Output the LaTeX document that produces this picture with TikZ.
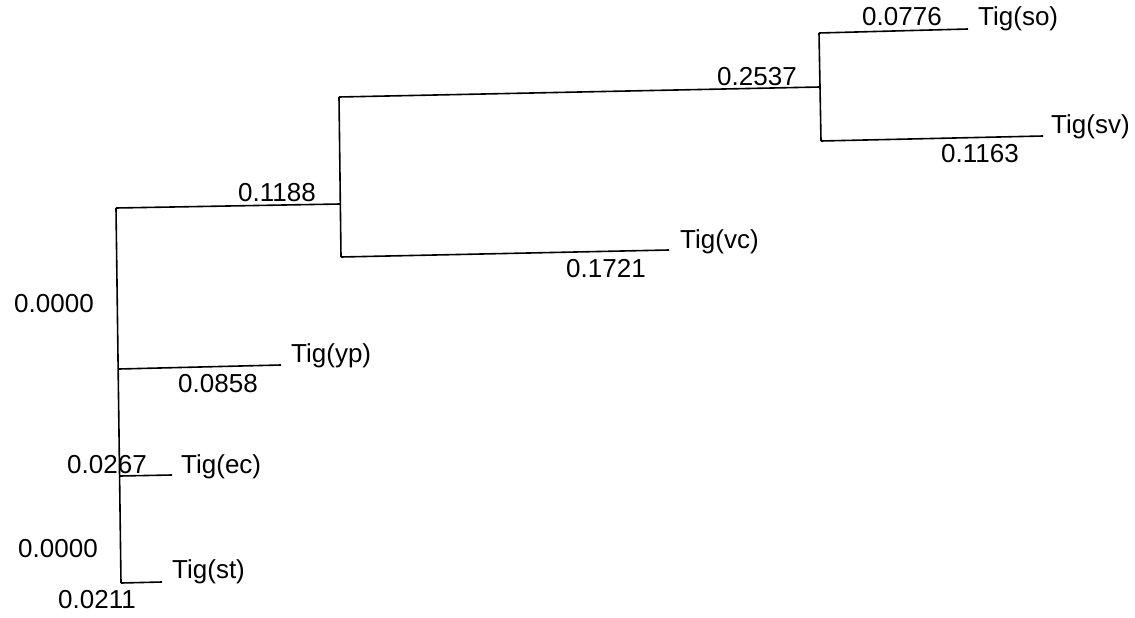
\documentclass[tikz,border=0pt]{standalone}
\usepackage{fontspec}
\setmainfont{Liberation Sans}
\begin{document}
\begin{tikzpicture}[x=1pt,y=-1pt,
  br/.style={line width=1.6pt,black},
  lbl/.style={anchor=base west,inner sep=0pt,font=\fontsize{26}{29}\selectfont}]
\useasboundingbox (0,0) rectangle (1135,618);
% tree coordinates
\coordinate (rtop) at (116,208);
\coordinate (ryp) at (119,369);
\coordinate (rec) at (120,476);
\coordinate (rbot) at (121,583);
\coordinate (n1) at (340,204);
\coordinate (n1top) at (339,97);
\coordinate (n1bot) at (341,257);
\coordinate (vc) at (669,250);
\coordinate (n2) at (820,87);
\coordinate (n2top) at (819,33);
\coordinate (n2bot) at (821,141);
\coordinate (so) at (968,29);
\coordinate (sv) at (1043,136);
\coordinate (yp) at (281,365);
\coordinate (ec) at (172,475);
\coordinate (st) at (162,582);
% branches
\draw[br] (rtop) -- (rbot);
\draw[br] (rtop) -- (n1);
\draw[br] (n1top) -- (n1bot);
\draw[br] (n1top) -- (n2);
\draw[br] (n2top) -- (n2bot);
\draw[br] (n2top) -- (so);
\draw[br] (n2bot) -- (sv);
\draw[br] (n1bot) -- (vc);
\draw[br] (ryp) -- (yp);
\draw[br] (rec) -- (ec);
\draw[br] (rbot) -- (st);
% labels
\node[lbl] (l1188) at (238,201) {0.1188};
\node[lbl] (l2537) at (717,85) {0.2537};
\node[lbl] (l0776) at (862,26) {0.0776};
\node[lbl] (tso) at (978,26) {Tig(so)};
\node[lbl] (tsv) at (1051,133) {Tig(sv)};
\node[lbl] (l1163) at (941,162) {0.1163};
\node[lbl] (tvc) at (680,248) {Tig(vc)};
\node[lbl] (l1721) at (566,277) {0.1721};
\node[lbl] (l0000a) at (14,312) {0.0000};
\node[lbl] (typ) at (291,362) {Tig(yp)};
\node[lbl] (l0858) at (178,392) {0.0858};
\node[lbl] (l0267) at (67,473) {0.0267};
\node[lbl] (tec) at (181,473) {Tig(ec)};
\node[lbl] (l0000b) at (18,557) {0.0000};
\node[lbl] (tst) at (172,578) {Tig(st)};
\node[lbl] (l0211) at (58,608) {0.0211};
\end{tikzpicture}
\end{document}
